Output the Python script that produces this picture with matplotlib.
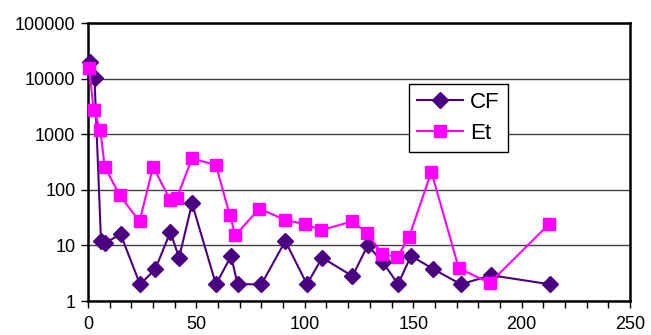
import matplotlib
matplotlib.use("Agg")
import matplotlib.pyplot as plt
from matplotlib.ticker import MultipleLocator, FixedLocator, NullLocator

plt.rcParams['font.family'] = ['Liberation Sans', 'DejaVu Sans']

cf_x = [1, 3, 6, 8, 15, 24, 31, 38, 42, 48, 59, 66, 69, 80, 91, 101, 108, 122, 129, 136, 143, 149, 159, 172, 186, 213]
cf_y = [19500, 10200, 12, 11, 16, 2, 3.7, 17.5, 6, 57, 2, 6.4, 2, 2, 12, 2, 6, 2.8, 10, 5, 2, 6.5, 3.8, 2, 2.9, 2]

et_x = [0.5, 2.6, 5.7, 7.7, 14.6, 23.8, 30, 38, 41, 48, 59, 65.4, 68, 79, 90.7, 100, 107.6, 121.8, 128.7, 135.8, 142.7, 148, 158.4, 171, 185.3, 212.6]
et_y = [15400, 2730, 1190, 260, 80, 27, 260, 65, 72, 368, 279, 35, 15.3, 46, 29, 24, 18.8, 27, 17, 6.9, 6.2, 13.9, 211, 3.9, 2.1, 24]

x_ticks = [0, 50, 100, 150, 200, 250]
y_ticks = [1, 10, 100, 1000, 10000, 100000]
y_labels = ['1', '10', '100', '1000', '10000', '100000']

fig = plt.figure(figsize=(6.51, 3.35), dpi=100)
ax = fig.add_axes([88/651, 1 - 301/335, (630 - 88)/651, (301 - 23)/335])

ax.set_yscale('log')
ax.set_xlim(0, 250)
ax.set_ylim(1, 100000)

ax.plot(cf_x, cf_y, color='#4B0082', marker='D', markersize=8, linewidth=1.5,
        label='CF', zorder=3, clip_on=False)
ax.plot(et_x, et_y, color='#FF00FF', marker='s', markersize=9, linewidth=1.5,
        label='Et', zorder=4, clip_on=False)

ax.yaxis.set_major_locator(FixedLocator(y_ticks))
ax.set_yticklabels(y_labels)
ax.yaxis.set_minor_locator(NullLocator())
ax.xaxis.set_major_locator(FixedLocator(x_ticks))
ax.xaxis.set_minor_locator(MultipleLocator(10))

ax.grid(True, which='major', axis='y', color='#404040', linewidth=1.0)
ax.set_axisbelow(True)

for s in ax.spines.values():
    s.set_color('black')
    s.set_linewidth(1.8)

ax.tick_params(axis='both', which='major', direction='out', length=5, width=1,
               labelsize=13, colors='black', pad=4)
ax.tick_params(axis='x', which='minor', direction='out', length=5, width=1)
ax.tick_params(axis='x', pad=6)

leg = ax.legend(loc='upper left', bbox_to_anchor=((409 - 88) / 542, 1 - (84 - 23) / 278),
                fontsize=16, frameon=True, fancybox=False, borderpad=0.35,
                handlelength=2.1, handletextpad=0.3, labelspacing=0.45,
                borderaxespad=0)
leg.get_frame().set_edgecolor('black')
leg.get_frame().set_linewidth(1.0)
leg.get_frame().set_alpha(1)

fig.savefig('out.png', dpi=100)
